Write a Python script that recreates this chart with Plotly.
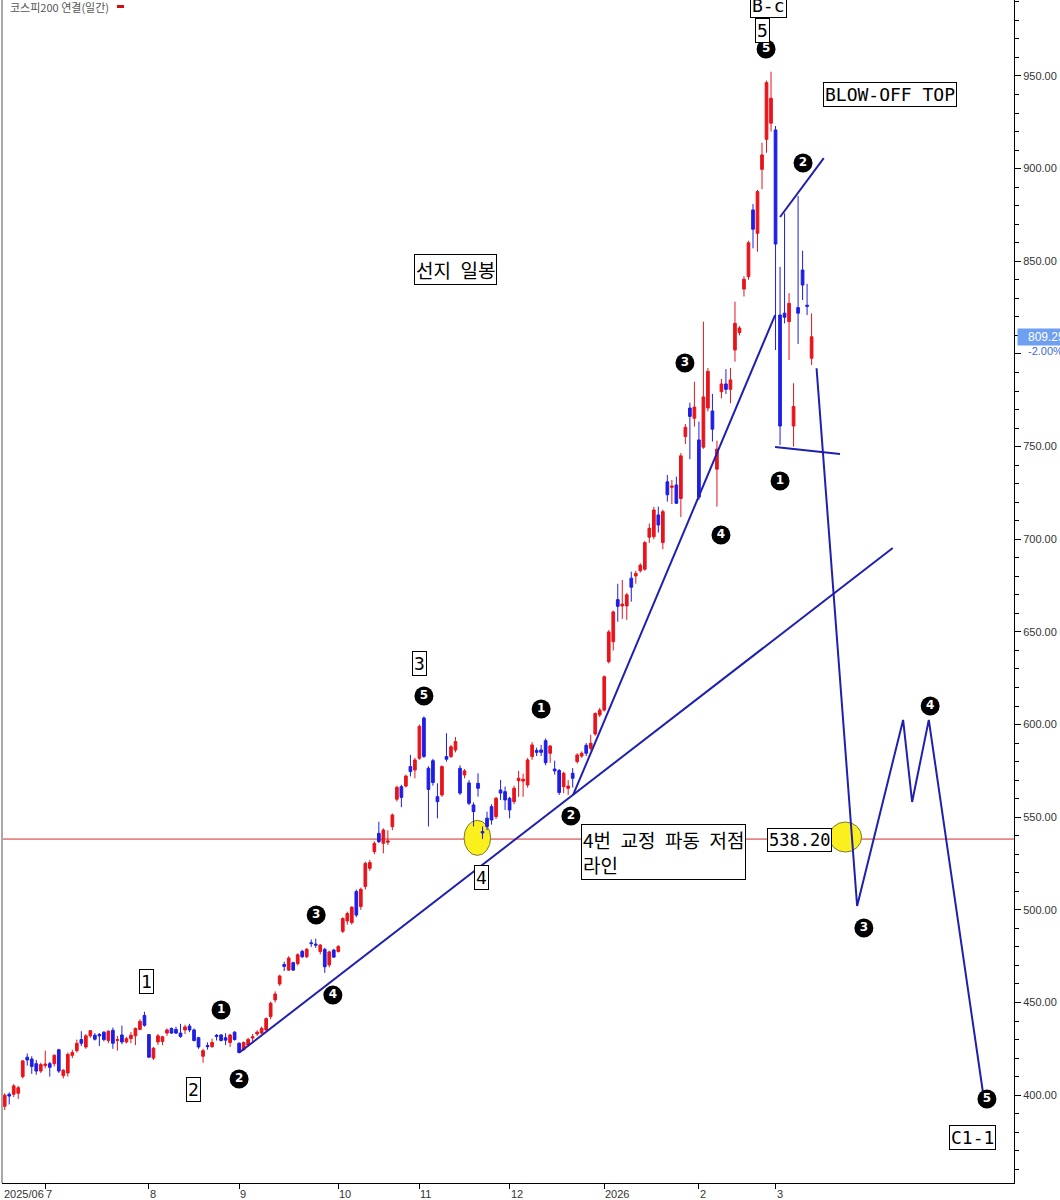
import plotly.graph_objects as go

# 코스피200 연결 일봉 (2025/06 ~ 2026/03), 차트에서 읽은 값
opens = [394, 400.5, 400.5, 401, 410, 420.5, 419.5, 417, 413, 416,
         417, 417, 424.5, 410.5, 412, 421.5, 424, 430, 426, 432,
         432.3, 432.8, 434, 429.5, 435, 429.5, 432.5, 428.7, 430.5, 432,
         435.5, 443, 432.7, 420, 428.7, 429, 433.5, 436, 435.5, 433.5,
         435.2, 437.3, 435.2, 431, 421, 426.8, 426.2, 432.3, 432.5, 431,
         428.4, 434, 428, 424.5, 427, 430.8, 433, 433.5, 435.2, 442.4,
         451.4, 460, 470.5, 467.5, 471.5, 471, 477.6, 474.7, 482.2, 481.5,
         477.5, 478.7, 470.3, 478.3, 477.5, 488.4, 494, 493.1, 509.9, 501.8,
         512.6, 522.4, 531.4, 541.3, 535.9, 536.5, 544.9, 559.7, 566.5, 566.8,
         577.3, 575.5, 581.8, 603.5, 576.4, 580.5, 561.1, 562, 582.7, 582.7,
         586.3, 576.4, 572.8, 568.5, 556.6, 568.3, 542.3, 549.5, 555.7, 550.3,
         564.7, 563.8, 560.2, 558.4, 569.7, 569.5, 567.4, 582.7, 586, 586.3,
         591.3, 584.5, 576, 575.2, 566.5, 565.6, 573.7, 580, 583, 588.8,
         587.2, 594.9, 605.2, 607.8, 633.9, 644.7, 667.4, 664, 664, 679,
         680.2, 683, 683.8, 701.1, 701.4, 713.1, 698.2, 731, 728, 729.3,
         722, 755.4, 770.8, 765.3, 753.6, 749.7, 770.8, 769.2, 737.8, 779.6,
         783.8, 780.9, 802.1, 811.5, 835, 841.7, 877.7, 865.1, 899.6, 915.8,
         924.5, 920.9, 821, 822, 817.4, 761.1, 825, 845.3, 826.3, 797.7]
highs = [401, 401.5, 406, 405, 419, 422.5, 421, 419, 417.5, 424,
         418, 422, 425, 414, 423, 424.5, 430, 434.5, 433, 435,
         433.5, 433.5, 434.5, 435, 436.5, 432, 437.5, 431.5, 434, 436.5,
         441, 445, 433, 426, 433, 432, 436, 436.5, 437, 438.5,
         438, 438.5, 436, 431.5, 425, 428.5, 430.5, 433, 433, 433.5,
         433, 434.5, 428.5, 429, 431, 433, 435, 437, 442, 450.5,
         456, 465, 472, 475, 472, 476.5, 478.5, 479.5, 484, 484.5,
         481.5, 479.5, 478, 479, 481, 496, 499, 502, 511, 512,
         526, 527, 537, 547.6, 544, 543, 552, 567, 567.5, 573,
         583.6, 582, 600, 604.4, 577.5, 581.5, 568.3, 578, 595.3, 589,
         593.3, 578, 576, 570, 558, 573.7, 545, 553, 557, 561,
         570.1, 566.5, 561, 567, 575, 573.5, 582, 590.5, 587.5, 589,
         592.5, 589, 580.5, 576, 574.5, 570, 576.5, 584.5, 585.5, 590,
         594.5, 606.5, 609, 626.5, 651, 661.5, 676, 678, 671, 682.5,
         683, 687, 699, 708.5, 717.5, 717.6, 716, 734.7, 732, 733.8,
         746.5, 762.2, 773.7, 785, 763.5, 817.4, 792.4, 778.4, 753.2, 786.5,
         791.8, 792.4, 828.2, 815, 842, 861.1, 880.9, 888.5, 914, 947.5,
         952.3, 923, 847, 875.9, 832.8, 784.2, 885.2, 855.7, 837.8, 821.9]
lows = [392, 395, 399, 398, 409, 416, 411.5, 411, 412, 414.5,
        410, 415.5, 412, 409, 410, 420, 423, 426.5, 425, 431,
        429.5, 426.5, 429, 428, 425, 424, 427.5, 428, 428, 427,
        435, 437, 420, 419, 427, 427, 432, 433, 433, 431,
        433, 434, 429, 425, 417.5, 424.5, 425.5, 429.5, 429, 427,
        426, 429.5, 422.5, 424, 426, 429, 432, 433, 434, 441,
        450, 459, 467, 467, 467, 470, 474, 474, 480, 479.5,
        476, 466, 469, 474, 477, 487.5, 492, 492, 496, 500,
        511, 521, 530, 536, 530.5, 535, 543, 558.5, 555.4, 566,
        572, 571, 581, 582, 545, 567, 549.4, 561, 580, 582,
        585, 562, 571, 556.5, 545, 561.1, 538.2, 543, 546, 549,
        559.3, 553.9, 549.4, 557, 561, 561, 566, 581, 583, 583,
        578, 579.4, 573, 562, 563, 562, 566, 579, 582, 583,
        586, 594, 604, 607, 633, 640, 655.5, 657, 656.5, 666.3,
        676, 682, 683, 698, 700, 703.6, 694.6, 720.3, 719, 719,
        712, 751.4, 743.2, 760.8, 721.2, 748.8, 769, 752.7, 717.6, 776,
        778.4, 773.4, 795.8, 810, 831, 840, 857, 855.2, 888.9, 908.6,
        920, 802.1, 750.9, 816.5, 796.7, 750, 805.4, 829.1, 821, 794]
closes = [400, 399.5, 405, 404, 418.5, 419, 415.5, 413, 416.5, 416.8,
          415, 421.5, 413, 413.5, 422, 423, 428, 428, 432, 434.8,
          430.2, 432, 430, 434.5, 428, 430, 428.7, 430.5, 432.3, 436,
          439.8, 437.7, 420.5, 425.3, 432, 431.5, 435.2, 433.5, 433.5, 431.7,
          436.8, 435.2, 429.5, 426, 424, 426.2, 428.4, 431.7, 429.5, 429.7,
          432.5, 430, 423, 428.4, 430, 431.5, 434, 436, 441.3, 449.6,
          454.6, 464.3, 469.5, 474, 467.5, 475.8, 474.7, 478.7, 481.8, 481,
          481, 469.3, 477.3, 474.5, 480.2, 495.3, 498, 501.4, 497.2, 511.1,
          525.1, 525.5, 535.9, 536.8, 543.1, 537.2, 551.2, 566.1, 560.7, 572.2,
          574.6, 580.9, 599, 582.8, 565, 568.7, 558.4, 577.3, 581.3, 588,
          590.8, 563, 575, 557.5, 553, 565.6, 541.5, 545, 548.5, 560.2,
          563, 559.3, 553.9, 565.6, 571, 570.5, 580.9, 589, 585, 585,
          579.4, 588.4, 575, 563.3, 573.7, 566.8, 571, 583.6, 584.5, 584.5,
          589.9, 606, 607.8, 625.8, 650, 660.8, 663.8, 665, 670, 674.1,
          681.6, 686, 698.2, 705.9, 715.8, 707.7, 714.9, 724, 728.7, 719.4,
          745, 760.4, 766.3, 771.3, 722.7, 776.8, 790.6, 759.4, 748.6, 783.8,
          780.9, 786, 816.5, 814, 840.3, 860, 867.3, 887.6, 907.4, 946.4,
          938, 859.3, 761.1, 819.8, 827.3, 771.6, 822, 837.2, 825.7, 809.25]

# x축 월 구분 (봉 번호)
month_pos = [9, 32, 52, 74, 92, 112, 133, 154, 171]
month_labels = ["7", "8", "9", "10", "11", "12", "2026", "2", "3"]

# y축 눈금 (800은 현재가 라벨에 가려짐)
y_ticks = list(range(400, 951, 50))
y_labels = ["" if v == 800 else f"{v:.2f}" for v in y_ticks]

# 추세선 / 예상 경로
long_line_x = [52.2, 197.0]
long_line_y = [423.3, 695.3]
steep_line_x = [126.1, 170.9]
steep_line_y = [562.0, 821.0]
w2_line_x = [172.0, 181.7]
w2_line_y = [873.9, 905.7]
w1_line_x = [170.9, 185.3]
w1_line_y = [749.8, 746.0]
proj_x = [180.1, 189.1, 199.3, 201.3, 205.0, 217.0]
proj_y = [792.3, 502.1, 602.5, 558.2, 602.5, 401.7]

wave4_low = 538.2
last_price = 809.25

# 소파동 번호 (검은 원)
sub_x = [48.0, 52.0, 69.1, 72.8, 93.0, 119.0, 125.6, 150.9, 158.9, 168.9,
         177.1, 172.0, 190.6, 205.3, 217.9]
sub_y = [446.0, 408.7, 497.2, 454.0, 615.4, 608.4, 550.6, 795.1, 702.3, 964.6,
         903.0, 731.4, 490.2, 610.0, 397.9]
sub_txt = ["1", "2", "3", "4", "5", "1", "2", "3", "4", "5",
           "2", "1", "3", "4", "5"]

# 상위 파동 라벨 (네모 박스)
box_txt = ["1", "2", "3", "4", "5", "B-c", "BLOW-OFF TOP", "C1-1"]
box_x = [31.5, 41.9, 92.1, 105.7, 168.2, 169.5, 196.5, 214.8]
box_y = [461.1, 403.3, 633.2, 517.7, 974.6, 988.3, 939.9, 377.4]

RED = "#e8141c"
BLUE = "#1e1ee6"
LINE = "#2020b0"
SP = "\u2002"

idx = list(range(len(closes)))

fig = go.Figure()

fig.add_trace(go.Candlestick(
    x=idx, open=opens, high=highs, low=lows, close=closes,
    increasing=dict(line=dict(color=RED, width=1), fillcolor=RED),
    decreasing=dict(line=dict(color=BLUE, width=1), fillcolor=BLUE),
    whiskerwidth=0, showlegend=False, hoverinfo="x+y"))

for lx, ly in [(long_line_x, long_line_y), (steep_line_x, steep_line_y),
               (w2_line_x, w2_line_y), (w1_line_x, w1_line_y), (proj_x, proj_y)]:
    fig.add_trace(go.Scatter(x=lx, y=ly, mode="lines",
                             line=dict(color=LINE, width=2),
                             showlegend=False, hoverinfo="skip"))

fig.add_trace(go.Scatter(
    x=sub_x, y=sub_y, mode="markers+text", text=sub_txt,
    textposition="middle center",
    textfont=dict(family="DejaVu Sans", size=12, color="white", weight="bold"),
    marker=dict(size=19, color="black"),
    showlegend=False, hoverinfo="skip"))

# 노란 원 + 4번 저점 라인
fig.add_shape(type="circle", xref="x", yref="y", x0=101.9, x1=107.8,
              y0=529.4, y1=548.3, fillcolor="#f9f01e",
              line=dict(color="#7a7a30", width=1), layer="below")
fig.add_shape(type="circle", xref="x", yref="y", x0=182.9, x1=190.1,
              y0=531.2, y1=547.4, fillcolor="#f9f01e",
              line=dict(color="#7a7a30", width=1), layer="below")
fig.add_hline(y=wave4_low, line=dict(color="#d42a2a", width=1), layer="below")

# 왼쪽 테두리
fig.add_shape(type="line", xref="paper", yref="paper", x0=0, x1=0, y0=0, y1=1,
              line=dict(color="#a8a8a8", width=2))

for t, bx, by in zip(box_txt, box_x, box_y):
    fig.add_annotation(x=bx, y=by, text=t, showarrow=False,
                       font=dict(family="DejaVu Sans Mono", size=18, color="black"),
                       bgcolor="white", bordercolor="black", borderwidth=1,
                       borderpad=1)

fig.add_annotation(x=100.1, y=845.3, text="선지" + SP + "일봉", showarrow=False,
                   font=dict(family="Noto Sans CJK KR", size=19, color="black"),
                   bgcolor="white", bordercolor="black", borderwidth=1, borderpad=1)
fig.add_annotation(x=127.8, y=546.3, xanchor="left", yanchor="top", align="left",
                   text=SP.join(["4번", "교정", "파동", "저점"]) + "<br>라인",
                   showarrow=False,
                   font=dict(family="Noto Sans CJK KR", size=19, color="black"),
                   bgcolor="white", bordercolor="black", borderwidth=1, borderpad=1)
fig.add_annotation(x=169.1, y=537.5, xanchor="left", text=f"{wave4_low:.2f}",
                   showarrow=False,
                   font=dict(family="DejaVu Sans Mono", size=17, color="black"),
                   bgcolor="white", bordercolor="black", borderwidth=1, borderpad=1)

# 현재가 라벨
fig.add_annotation(xref="paper", x=1.003, xanchor="left", y=last_price,
                   text=f"{last_price:.2f}", showarrow=False,
                   font=dict(family="Liberation Sans", size=12, color="white"),
                   bgcolor="#6f9ff0", borderpad=1, width=46, align="right")
fig.add_annotation(xref="paper", x=1.012, xanchor="left", y=801.4,
                   text="-2.00%", showarrow=False,
                   font=dict(family="Liberation Sans", size=11, color="#3d6cd6"))

# 제목
fig.add_annotation(xref="paper", yref="paper", x=0.006, y=0.9945,
                   xanchor="left", yanchor="middle", text="코스피200 연결(일간)",
                   showarrow=False,
                   font=dict(family="Noto Sans CJK KR", size=11, color="#555"))
fig.add_shape(type="line", xref="paper", yref="paper", x0=0.1136, x1=0.1206,
              y0=0.9945, y1=0.9945, line=dict(color="#d01010", width=3))

# x축 라벨 (틱 오른쪽에 붙여서)
fig.add_annotation(xref="paper", yref="paper", x=0.0, y=0, yanchor="top",
                   xanchor="left", yshift=-3, text="2025/06", showarrow=False,
                   font=dict(family="Liberation Sans", size=11, color="#333"))
for p, lab in zip(month_pos, month_labels):
    fig.add_annotation(x=p, yref="paper", y=0, yanchor="top", xanchor="left",
                       xshift=-1, yshift=-3, text=lab, showarrow=False,
                       font=dict(family="Liberation Sans", size=11, color="#333"))

fig.update_layout(
    width=1060, height=1200,
    margin=dict(l=2, r=46, t=0, b=17),
    plot_bgcolor="white", paper_bgcolor="white",
    showlegend=False, boxgap=0.15,
    xaxis=dict(range=[-0.6, 223.9], showgrid=False, zeroline=False,
               showline=True, linecolor="black", linewidth=1,
               ticks="outside", ticklen=5, tickcolor="black",
               tickvals=month_pos, showticklabels=False,
               rangeslider=dict(visible=False)),
    yaxis=dict(side="right", range=[352.6, 991], showgrid=False, zeroline=False,
               showline=True, linecolor="black", linewidth=1,
               tickvals=y_ticks, ticktext=y_labels,
               ticks="outside", ticklen=6, tickcolor="black",
               minor=dict(tickmode="linear", tick0=0, dtick=10, ticks="outside",
                          ticklen=4, tickcolor="black"),
               tickfont=dict(family="Liberation Sans", size=11, color="#333")),
)

# 브라우저 기본 body 여백 제거
fig.write_html("out.html", config={"displayModeBar": False},
               post_script="document.body.style.margin='0';"
                           "document.body.style.overflow='hidden';")
